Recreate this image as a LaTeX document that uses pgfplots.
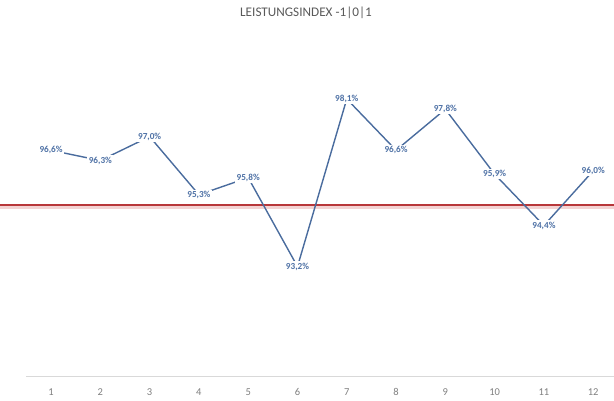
\documentclass[border=0pt]{standalone}
\usepackage{pgfplots}
\pgfplotsset{compat=1.18}
\usepackage{fontspec}
\setmainfont{Carlito}
\definecolor{serie}{HTML}{4A6C9E}
\definecolor{lbl}{HTML}{4F72A6}
\definecolor{redl}{HTML}{B8373A}
\definecolor{shadow}{HTML}{F3D3D3}
\definecolor{txt}{HTML}{595959}
\definecolor{tick}{HTML}{7F7F7F}
\definecolor{axl}{HTML}{D9D9D9}
\begin{document}
\begin{tikzpicture}[x=1pt,y=1pt]
\path[use as bounding box] (0,0) rectangle (614,400);
\node[text=txt,font=\fontsize{13.2}{15}\selectfont] at (306,387) {LEISTUNGSINDEX -1|0|1};
\begin{axis}[
  at={(26.4pt,24pt)}, anchor=south west,
  scale only axis,
  width=589pt, height=342pt,
  xmin=0.5, xmax=12.45,
  ymin=90, ymax=100,
  clip=false,
  axis y line=none,
  axis x line*=bottom,
  x axis line style={draw=axl, line width=0.8pt},
  xtick={1,2,...,12},
  major tick length=0pt,
  ytick=\empty,
  xticklabel style={text=tick, font=\fontsize{10.5}{12}\selectfont, yshift=-9pt},
  /pgf/number format/assume math mode=true,
]
\addplot[shadow, line width=3.5pt] coordinates {(-0.04,94.92) (12.45,94.92)};
\addplot[redl, line width=2.3pt] coordinates {(-0.04,95) (12.45,95)};
\addplot[serie, line width=1.4pt, mark=none,
  nodes near coords={\pgfmathprintnumber[fixed,fixed zerofill,precision=1,use comma]{\pgfplotspointmeta}\%},
  every node near coord/.append style={anchor=center, fill=white, inner sep=1.3pt, text=lbl, font=\bfseries\fontsize{9.2}{10}\selectfont, /pgf/number format/assume math mode=true},
] coordinates {
(1,96.6) (2,96.3) (3,97.0) (4,95.3) (5,95.8) (6,93.2)
(7,98.1) (8,96.6) (9,97.8) (10,95.9) (11,94.4) (12,96.0)
};
\end{axis}
\end{tikzpicture}
\end{document}
